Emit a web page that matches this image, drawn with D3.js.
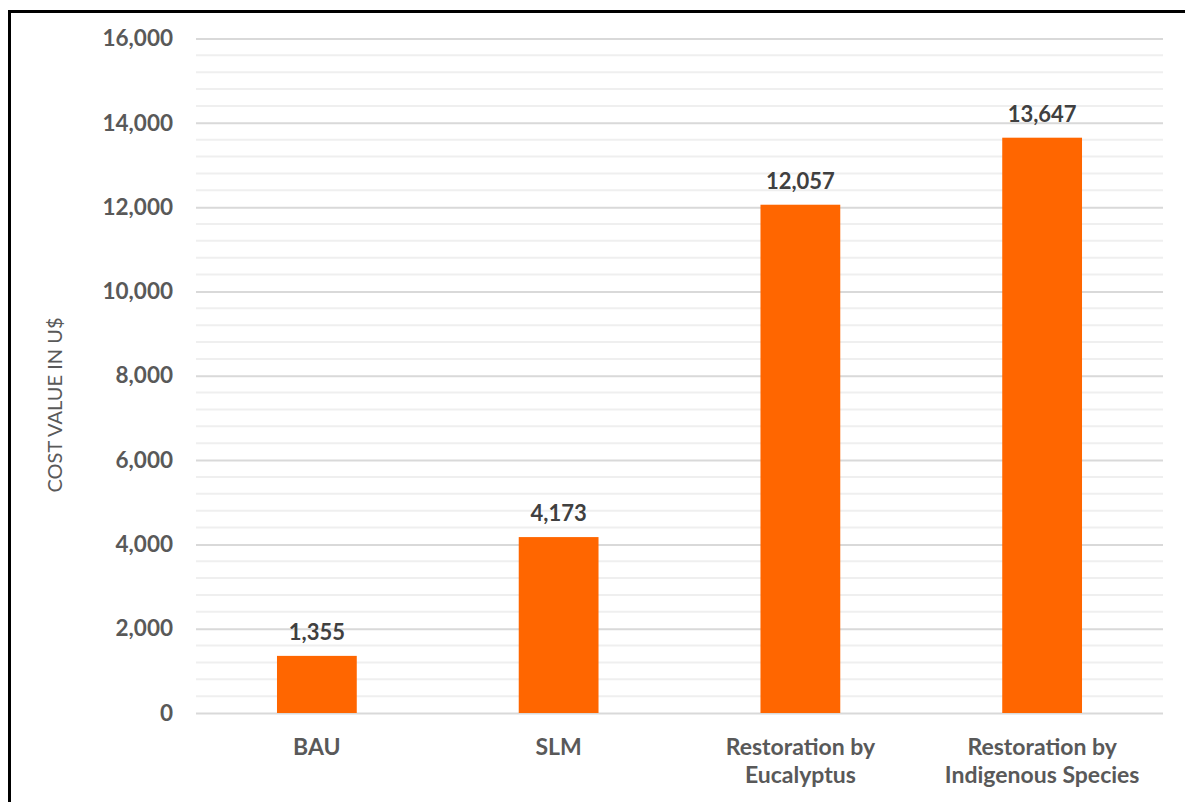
<!DOCTYPE html>
<html>
<head>
<meta charset="utf-8">
<script src="https://cdn.jsdelivr.net/npm/d3@7"></script>
<style>
  html, body { margin: 0; padding: 0; background: #ffffff; }
  svg { display: block; }
</style>
</head>
<body>
<svg id="chart" width="1185" height="802"></svg>
<script>
const categories = [["BAU"], ["SLM"], ["Restoration by", "Eucalyptus"], ["Restoration by", "Indigenous Species"]];
const values = [1355, 4173, 12057, 13647];
const majorTicks = [0, 2000, 4000, 6000, 8000, 10000, 12000, 14000, 16000];
const minorStep = 400;
const yTitle = "COST VALUE IN U$";

const svg = d3.select("#chart");
const font = "Lato, 'Open Sans', sans-serif";

// frame border
svg.append("rect")
  .attr("x", 9.5).attr("y", 11.5).attr("width", 1300).attr("height", 1000)
  .attr("fill", "none").attr("stroke", "#000").attr("stroke-width", 3);

const pLeft = 196, pRight = 1163, pTop = 38.5, pBottom = 713;
const keys = categories.map((c, i) => i);
const x = d3.scaleBand().domain(keys).range([pLeft, pRight]).paddingInner(0.67).paddingOuter(0.335);
const y = d3.scaleLinear().domain([0, 16000]).range([pBottom, pTop]);

// minor gridlines
const minor = d3.range(0, 16000 + 1, minorStep).filter(v => v % 2000 !== 0);
svg.append("g").selectAll("line").data(minor).join("line")
  .attr("x1", pLeft).attr("x2", pRight)
  .attr("y1", d => y(d)).attr("y2", d => y(d))
  .attr("stroke", "#efefef").attr("stroke-width", 2);

// major gridlines + tick labels via axis
const yAxis = d3.axisLeft(y).tickValues(majorTicks).tickFormat(d3.format(",")).tickSize(-(pRight - pLeft)).tickPadding(23);
const gy = svg.append("g").attr("transform", `translate(${pLeft},0)`).call(yAxis);
gy.select(".domain").remove();
gy.selectAll(".tick line").attr("stroke", "#d9d9d9").attr("stroke-width", 2);
gy.selectAll(".tick text")
  .attr("fill", "#595959").attr("font-family", font).attr("font-weight", "bold")
  .attr("font-size", "22.5px");

// bars
svg.append("g").selectAll("rect").data(values).join("rect")
  .attr("x", (d, i) => x(i)).attr("width", x.bandwidth())
  .attr("y", d => y(d)).attr("height", d => y(0) - y(d))
  .attr("fill", "#ff6600");

// value labels
svg.append("g").selectAll("text").data(values).join("text")
  .attr("x", (d, i) => x(i) + x.bandwidth() / 2)
  .attr("y", d => y(d) - 16)
  .attr("text-anchor", "middle")
  .attr("fill", "#404040").attr("font-family", font).attr("font-weight", "bold")
  .attr("font-size", "22px")
  .text(d => d3.format(",")(d));

// category labels
const cat = svg.append("g").selectAll("text").data(categories).join("text")
  .attr("text-anchor", "middle")
  .attr("fill", "#595959").attr("font-family", font).attr("font-weight", "bold")
  .attr("font-size", "23px");
cat.each(function(lines, i) {
  const t = d3.select(this);
  lines.forEach((ln, j) => {
    t.append("tspan")
      .attr("x", x(i) + x.bandwidth() / 2)
      .attr("y", 755 + j * 28)
      .text(ln);
  });
});

// y title
svg.append("text")
  .attr("transform", "translate(62,405) rotate(-90)")
  .attr("text-anchor", "middle")
  .attr("fill", "#595959").attr("font-family", font)
  .attr("font-size", "20px")
  .text(yTitle);
</script>
</body>
</html>
